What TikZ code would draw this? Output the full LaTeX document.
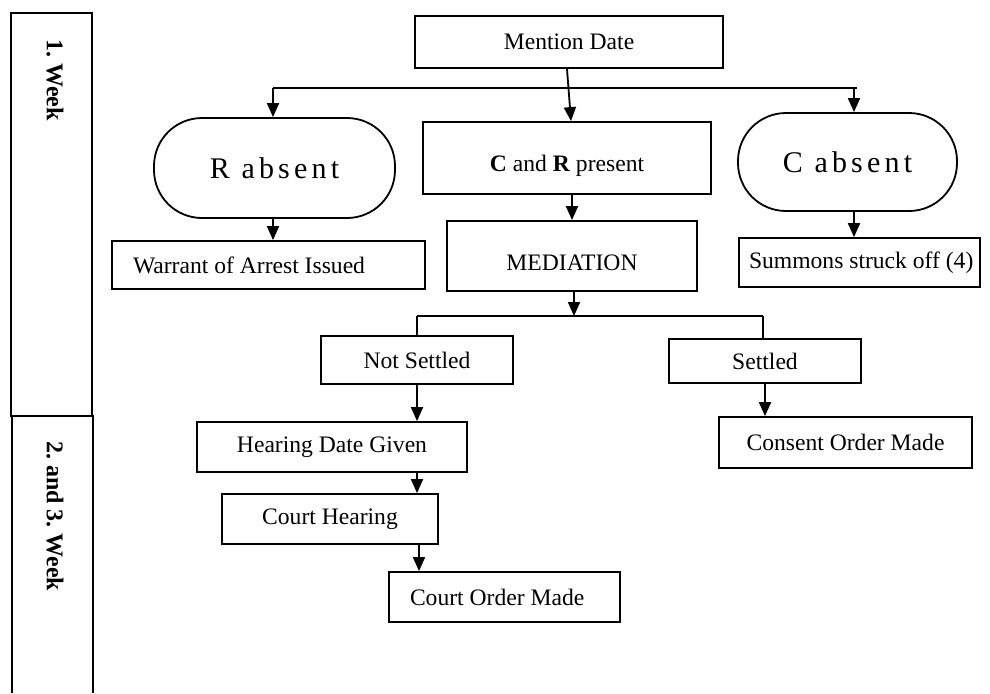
\documentclass[tikz,border=0pt]{standalone}
\usepackage{fontspec}
\setmainfont{Liberation Serif}
\newfontfamily\spacedfont[LetterSpace=14]{Liberation Serif}
\usetikzlibrary{arrows.meta}

\begin{document}
\begin{tikzpicture}[x=0.5pt,y=-0.5pt,line width=0.9pt,
  box/.style={draw,rectangle,inner sep=0pt,font=\fontsize{11.8}{14}\selectfont},
  oval/.style={draw,rectangle,rounded corners=24pt,inner sep=0pt,font=\fontsize{15}{18}\spacedfont},
  wk/.style={rotate=-90,font=\fontsize{12}{14}\selectfont\bfseries},
  go/.style={-{Triangle[length=7pt,width=6pt]}}]
\useasboundingbox (0,0) rectangle (990,693);

% week column
\draw (11,13) rectangle (92,416);
\draw (12,693) -- (12,416) -- (93,416) -- (93,693);
\node[wk] (w1) at (55,80) {1.\ Week};
\node[wk] (w2) at (55,516) {2.\ and 3.\ Week};

% boxes
\node[box,minimum width=154pt,minimum height=26pt] (md) at (569,42) {Mention Date};
\node[oval,minimum width=120.5pt,minimum height=50pt] (ra) at (274.5,168) {R absent};
\node[box,minimum width=144pt,minimum height=36pt,text height=16pt,text depth=3pt] (cr) at (567,158) {\textbf{C} and \textbf{R} present};
\node[oval,minimum width=109.5pt,minimum height=49pt] (ca) at (847.5,162) {C absent};
\node[box,minimum width=156.5pt,minimum height=24pt,inner xsep=10.5pt] (wa) at (268.5,265) {\makebox[135.5pt][l]{Warrant of Arrest Issued}};
\node[box,minimum width=125pt,minimum height=35pt,text height=14pt,text depth=0pt] (med) at (572,256) {MEDIATION};
\node[box,minimum width=120.5pt,minimum height=24.5pt,inner xsep=5pt] (su) at (859.5,262.5) {\makebox[110.5pt][l]{Summons struck off (4)}};
\node[box,minimum width=96pt,minimum height=24pt] (ns) at (417,360) {Not Settled};
\node[box,minimum width=96pt,minimum height=22pt] (st) at (765,361) {Settled};
\node[box,minimum width=135pt,minimum height=25pt] (hd) at (332,447) {Hearing Date Given};
\node[box,minimum width=126.5pt,minimum height=25.5pt] (co) at (845.5,442.5) {Consent Order Made};
\node[box,minimum width=108pt,minimum height=25pt] (ch) at (330,519) {Court Hearing};
\node[box,minimum width=115.5pt,minimum height=25pt,inner xsep=10.5pt] (cm) at (504.5,597) {\makebox[94.5pt][l]{Court Order Made}};

% junctions
\coordinate (jl) at (273,88);
\coordinate (jr) at (857,88);
\coordinate (jc) at (854,88);
\coordinate (ml) at (416,316);
\coordinate (mr) at (763,316);
\coordinate (mj) at (574,316);

% connectors
\draw (jl) -- (jr);
\draw[go] (jl) -- (jl |- ra.north);
\draw[go] (jc) -- (jc |- ca.north);
\draw[go] ([xshift=-1pt]md.south) -- ([xshift=2pt]cr.north);
\draw[go] (ra.south -| jl) -- (jl |- wa.north);
\draw[go] (ca.south -| jc) -- (jc |- su.north);
\draw[go] (cr.south -| med.north) -- (med.north);
\draw[go] (med.south -| mj) -- (mj);
\draw (ns.north |- ml) -- (mr);
\draw (ns.north |- ml) -- (ns.north);
\draw (mr) -- (st.north -| mr);
\draw[go] (ns.south) -- (ns.south |- hd.north);
\draw[go] (st.south) -- (st.south |- co.north);
\draw[go] (hd.south -| ns.south) -- (ns.south |- ch.north);
\draw[go] ([xshift=1pt]ch.south -| ns.south) -- ([xshift=1pt]ns.south |- cm.north);
\end{tikzpicture}
\end{document}
